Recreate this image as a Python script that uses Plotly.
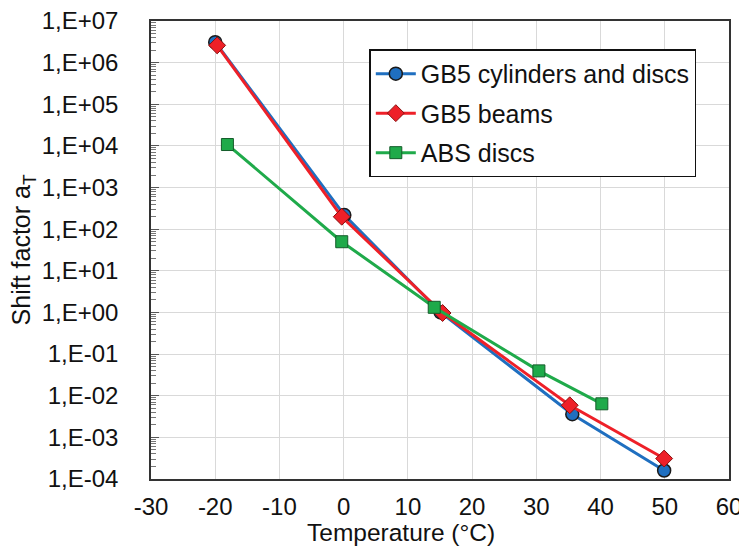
import plotly.graph_objects as go

# GB5 cylinders and discs
gb5_cyl_T = [-20.0, 0.1, 15.1, 35.6, 49.9]
gb5_cyl_a = [3.1e6, 218, 1.0, 3.6e-3, 1.6e-4]
# GB5 beams
gb5_beam_T = [-19.7, -0.3, 15.4, 35.2, 49.9]
gb5_beam_a = [2.6e6, 199, 0.97, 5.9e-3, 3.1e-4]
# ABS discs
abs_T = [-18.1, -0.3, 14.1, 30.4, 40.2]
abs_a = [1.08e4, 50, 1.33, 0.0395, 0.0064]

x_ticks = [-30, -20, -10, 0, 10, 20, 30, 40, 50, 60]
y_exps = [7, 6, 5, 4, 3, 2, 1, 0, -1, -2, -3, -4]
y_ticktext = ["1,E+07", "1,E+06", "1,E+05", "1,E+04", "1,E+03", "1,E+02",
              "1,E+01", "1,E+00", "1,E-01", "1,E-02", "1,E-03", "1,E-04"]
y_tickvals = [10.0 ** e for e in y_exps]
y_minor = [m * 10.0 ** e for e in range(-4, 7) for m in range(2, 10)]

FONT = "Arial, Liberation Sans, sans-serif"
TXT = "#111111"

fig = go.Figure()
fig.add_trace(go.Scatter(
    x=gb5_cyl_T, y=gb5_cyl_a, mode="lines+markers", name="GB5 cylinders and discs",
    legendgroup="a",
    line=dict(color="#1F6FC0", width=3),
    marker=dict(symbol="circle", size=13, color="#1F6FC0", line=dict(color="#1A1A1A", width=1.5))))
fig.add_trace(go.Scatter(
    x=gb5_beam_T, y=gb5_beam_a, mode="lines+markers", name="GB5 beams",
    legendgroup="b",
    line=dict(color="#EE2028", width=3),
    marker=dict(symbol="diamond", size=13, color="#EE2028", line=dict(color="#8A1010", width=1))))
fig.add_trace(go.Scatter(
    x=abs_T, y=abs_a, mode="lines+markers", name="ABS discs",
    legendgroup="c",
    line=dict(color="#1FAA4A", width=3),
    marker=dict(symbol="square", size=12, color="#1FAA4A", line=dict(color="#145C2A", width=1))))

# page body has an 8px margin, so the figure is 8px smaller and shifted
fig.update_layout(
    width=739, height=539,
    margin=dict(l=143, r=18, t=13, b=68),
    paper_bgcolor="white", plot_bgcolor="white",
    font=dict(family=FONT, size=24, color=TXT),
    legend=dict(
        x=0.3777, y=0.938, xanchor="left", yanchor="top",
        bgcolor="white", bordercolor="#111111", borderwidth=1.5,
        font=dict(family=FONT, size=25, color=TXT),
        traceorder="grouped", tracegroupgap=4, itemwidth=40,
    ),
    xaxis=dict(
        range=[-30, 60], tickvals=x_ticks, ticktext=[str(v) for v in x_ticks],
        showgrid=True, gridcolor="#D9D9D9", gridwidth=1,
        showline=True, linecolor="#333333", linewidth=1.5, mirror=True,
        ticks="", zeroline=False, automargin=False, ticklabeloverflow="allow",
        tickfont=dict(size=24), ticklabelstandoff=5,
    ),
    yaxis=dict(
        type="log", range=[-4, 7], tickmode="array", tickvals=y_tickvals, ticktext=y_ticktext,
        showgrid=True, gridcolor="#D9D9D9", gridwidth=1,
        showline=True, linecolor="#333333", linewidth=1.5, mirror=True,
        ticks="inside", ticklen=8, tickcolor="#555555", tickwidth=1,
        minor=dict(tickmode="array", tickvals=y_minor, ticks="inside", ticklen=5,
                   tickcolor="#777777", tickwidth=1, showgrid=False),
        zeroline=False, automargin=False, ticklabeloverflow="allow",
        tickfont=dict(size=24), ticklabelstandoff=26,
    ),
    annotations=[
        dict(text="Temperature (°C)", xref="paper", yref="paper",
             x=0.4325, y=-0.117, xanchor="center", yanchor="middle",
             showarrow=False, font=dict(size=24.5, color=TXT)),
        dict(text="Shift factor a<sub>T</sub>", xref="paper", yref="paper",
             x=-0.2207, y=0.5, xanchor="center", yanchor="middle", textangle=-90,
             showarrow=False, font=dict(size=25, color=TXT)),
    ],
)

fig.write_html("out.html")
